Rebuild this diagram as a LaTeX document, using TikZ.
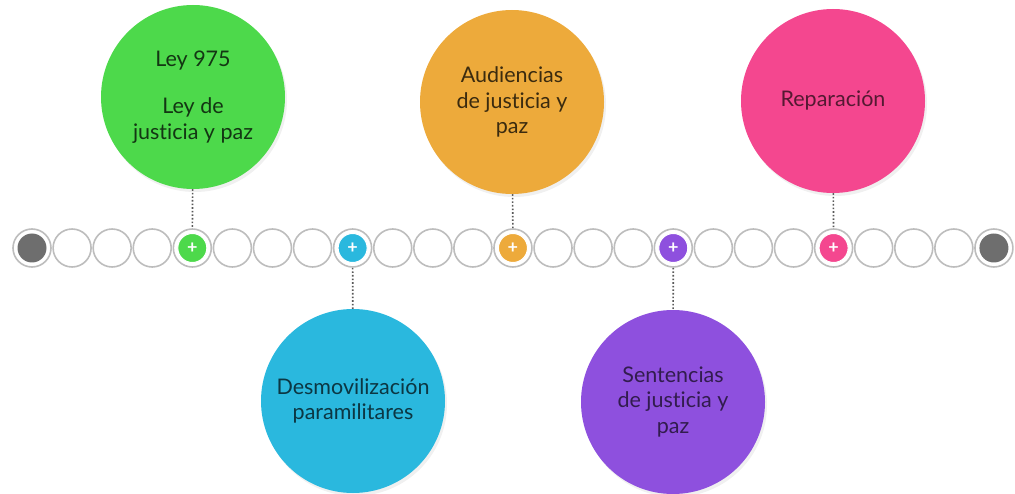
\documentclass[tikz,border=0pt]{standalone}
\usepackage{fontspec}
\setmainfont{Lato}[Ligatures={NoCommon,NoRequired,NoContextual}]
\usetikzlibrary{shadows}
\pgfdeclarelayer{bg}
\pgfsetlayers{bg,main}

\definecolor{leygreen}{HTML}{4DD94B}
\definecolor{desmblue}{HTML}{2AB8DE}
\definecolor{audorange}{HTML}{EDAA3B}
\definecolor{sentpurple}{HTML}{8E50DE}
\definecolor{reppink}{HTML}{F4478F}
\definecolor{ringgray}{HTML}{BDBDBD}
\definecolor{endgray}{HTML}{6E6E6E}

\tikzset{
  ring/.style={circle, draw=ringgray, line width=1.6pt, fill=white,
    minimum size=38pt, inner sep=0pt},
  dotstop/.style={circle, fill=#1, draw=white, line width=1pt,
    minimum size=29pt, inner sep=0pt, text=white,
    font=\fontsize{18}{18}\selectfont\bfseries},
  endstop/.style={circle, fill=endgray, minimum size=29pt, inner sep=0pt},
  bigcirc/.style={circle, fill=#1, minimum size=184pt, inner sep=0pt,
    align=center, font=\fontsize{21.5}{25.5}\selectfont,
    drop shadow={opacity=0.12, shadow xshift=2pt, shadow yshift=-3pt}},
  link/.style={dotted, line width=1.6pt, draw=black!65},
}

\begin{document}
\begin{tikzpicture}[x=1pt, y=-1pt]
        \useasboundingbox (0,0) rectangle (1015,494);
        % timeline
        \foreach \i in {1,...,25}
                \node (t\i) [ring] at ({32+40.08*(\i-1)}, 248) {};
        \node (e1) [endstop] at (t1) {};
        \node (e25) [endstop] at (t25) {};
        \node (s5) [dotstop=leygreen] at (t5) {+};
        \node (s9) [dotstop=desmblue] at (t9) {+};
        \node (s13) [dotstop=audorange] at (t13) {+};
        \node (s17) [dotstop=sentpurple] at (t17) {+};
        \node (s21) [dotstop=reppink] at (t21) {+};
        % events
        \node (ley) [bigcirc=leygreen, text=leygreen!25!black] at (193, 97)
                {Ley 975\\[22pt]Ley de\\justicia y paz};
        \node (desm) [bigcirc=desmblue, text=desmblue!30!black] at (353, 401)
                {Desmovilización\\paramilitares};
        \node (aud) [bigcirc=audorange, text=audorange!25!black] at (512, 102)
                {Audiencias\\de justicia y\\paz};
        \node (sent) [bigcirc=sentpurple, text=sentpurple!35!black] at (673, 402)
                {Sentencias\\de justicia y\\paz};
        \node (rep) [bigcirc=reppink, text=reppink!35!black] at (833, 101)
                {Reparación};
        \begin{pgfonlayer}{bg}
                \draw [link] (ley) -- (t5);
                \draw [link] (t9) -- (desm);
                \draw [link] (aud) -- (t13);
                \draw [link] (t17) -- (sent);
                \draw [link] (rep) -- (t21);
        \end{pgfonlayer}
\end{tikzpicture}
\end{document}
